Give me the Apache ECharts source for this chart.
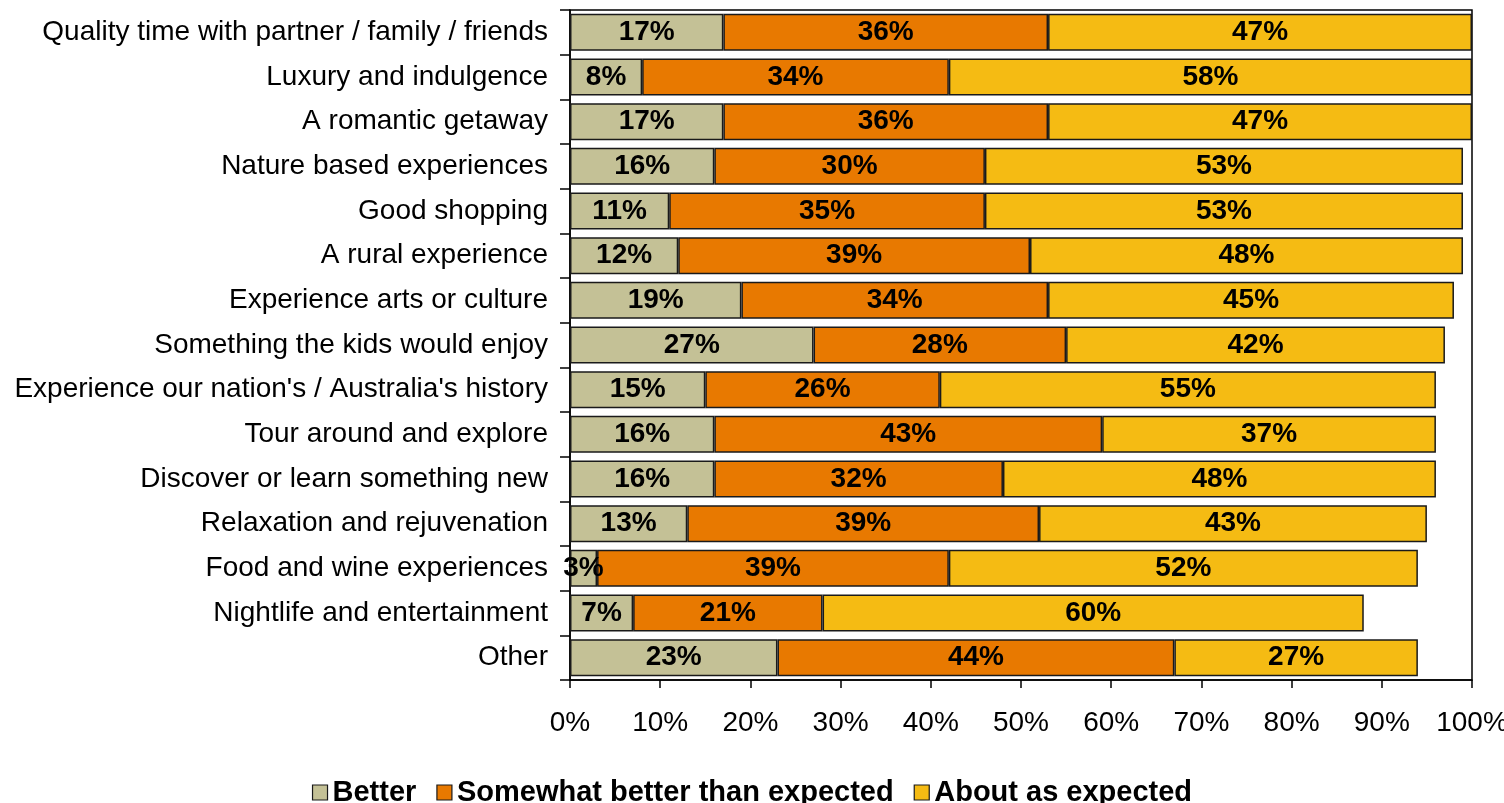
<!DOCTYPE html>
<html>
<head>
<meta charset="utf-8">
<script src="https://cdn.jsdelivr.net/npm/echarts@6/dist/echarts.min.js"></script>
<style>
  html, body { margin: 0; padding: 0; background: #ffffff; }
  #chart { width: 1504px; height: 803px; }
</style>
</head>
<body>
<div id="chart"></div>
<script>
// Activity categories, listed top to bottom
const categories = [
  'Quality time with partner / family / friends',
  'Luxury and indulgence',
  'A romantic getaway',
  'Nature based experiences',
  'Good shopping',
  'A rural experience',
  'Experience arts or culture',
  'Something the kids would enjoy',
  "Experience our nation's / Australia's history",
  'Tour around and explore',
  'Discover or learn something new',
  'Relaxation and rejuvenation',
  'Food and wine experiences',
  'Nightlife and entertainment',
  'Other'
];

// Share of respondents (%) per rating
const better         = [17, 8, 17, 16, 11, 12, 19, 27, 15, 16, 16, 13, 3, 7, 23];
const somewhatBetter = [36, 34, 36, 30, 35, 39, 34, 28, 26, 43, 32, 39, 39, 21, 44];
const aboutExpected  = [47, 58, 47, 53, 53, 48, 45, 42, 55, 37, 48, 43, 52, 60, 27];

const seriesNames = ['Better', 'Somewhat better than expected', 'About as expected'];
const seriesColors = ['#C4C196', '#E87900', '#F5BB13'];
const seriesData = [better, somewhatBetter, aboutExpected];

const xTicks = { min: 0, max: 100, interval: 10 };

const chart = echarts.init(document.getElementById('chart'), null, { renderer: 'canvas' });

const textFont = '"Liberation Sans", Arial, sans-serif';

const option = {
  animation: false,
  backgroundColor: '#ffffff',
  textStyle: { fontFamily: textFont },
  grid: {
    left: 570,
    right: 32,
    top: 10,
    bottom: 123,
    show: true,
    borderColor: '#000000',
    borderWidth: 1.5,
    containLabel: false,
    outerBoundsMode: 'none'
  },
  legend: {
    data: seriesNames,
    left: 'center',
    top: 773,
    itemWidth: 15,
    itemHeight: 15,
    itemGap: 20,
    icon: 'rect',
    itemStyle: { borderColor: '#1a1a1a', borderWidth: 1.2 },
    textStyle: {
      fontFamily: textFont,
      fontWeight: 'bold',
      fontSize: 29,
      color: '#000000'
    }
  },
  xAxis: {
    type: 'value',
    min: xTicks.min,
    max: xTicks.max,
    interval: xTicks.interval,
    axisLine: { show: true, lineStyle: { color: '#000000', width: 1.5 } },
    axisTick: { show: true, length: 8, lineStyle: { color: '#000000', width: 1.5 } },
    splitLine: { show: false },
    axisLabel: {
      formatter: '{value}%',
      fontSize: 28,
      color: '#000000',
      margin: 29,
      fontFamily: textFont
    }
  },
  yAxis: {
    type: 'category',
    data: categories,
    inverse: true,
    axisLine: { show: true, lineStyle: { color: '#000000', width: 1.5 } },
    axisTick: { show: true, length: 10, lineStyle: { color: '#000000', width: 1.5 } },
    axisLabel: {
      fontSize: 28,
      color: '#000000',
      margin: 22,
      fontFamily: textFont
    }
  },
  series: seriesNames.map((name, i) => ({
    name: name,
    type: 'bar',
    stack: 'total',
    barCategoryGap: '17%',
    data: seriesData[i],
    itemStyle: {
      color: seriesColors[i],
      borderColor: '#1a1a1a',
      borderWidth: 1.5
    },
    label: {
      show: true,
      position: 'inside',
      formatter: '{c}%',
      fontFamily: textFont,
      fontWeight: 'bold',
      fontSize: 28,
      color: '#000000'
    }
  }))
};

chart.setOption(option);
</script>
</body>
</html>
